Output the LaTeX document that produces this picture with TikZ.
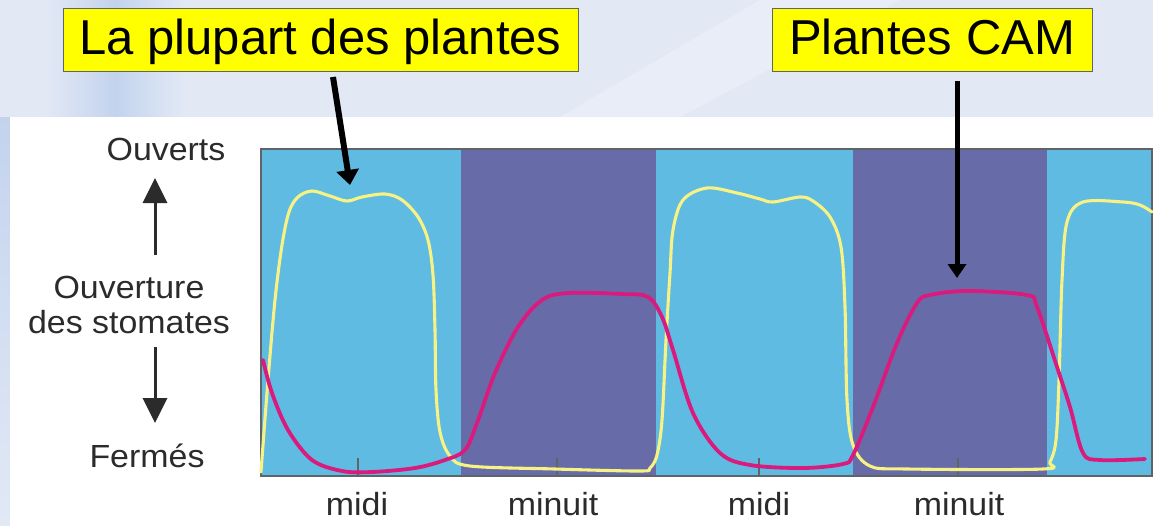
\documentclass[tikz,border=0pt]{standalone}
\usepackage{fontspec}
\setmainfont{Liberation Sans}
\usetikzlibrary{arrows.meta}
\definecolor{daybg}{HTML}{60BBE2}
\definecolor{nightbg}{HTML}{676CA9}
\definecolor{cyell}{HTML}{F7F283}
\definecolor{cmag}{HTML}{DA1A7C}
\definecolor{slide}{HTML}{E2E9F5}
\definecolor{slideblue}{HTML}{C3D3EE}
\definecolor{labtxt}{HTML}{2B2B2B}
\definecolor{boxyellow}{HTML}{FFFF00}
\definecolor{framegray}{HTML}{5E6468}
\begin{document}
\begin{tikzpicture}[x=1pt,y=-1pt,
  callout/.style={draw=framegray, line width=0.9pt, fill=boxyellow, text=black,
    font=\fontsize{49}{58}\selectfont, text height=36pt, text depth=7pt,
    minimum height=63pt, inner sep=0pt},
  axislabel/.style={anchor=base, text=labtxt, font=\fontsize{32}{38}\selectfont, inner sep=0pt, xscale=1.06},
  pointer/.style={line width=6pt, -{Triangle[length=15pt,width=22pt]}},
  sidearrow/.style={line width=3pt, draw=labtxt, -{Triangle[length=25pt,width=24pt]}},
  tick/.style={draw=framegray, line width=1.3pt},
  yellowcurve/.style={draw=cyell, line width=3.1pt, line join=round, line cap=round},
  magcurve/.style={draw=cmag, line width=3.8pt, line join=round, line cap=round}]
\useasboundingbox (0,0) rectangle (1153,525);
% slide background
\fill[slide] (0,0) rectangle (1153,525);
\shade[left color=slide, right color=slide, middle color=slideblue] (45,0) rectangle (185,117);
\fill[white, opacity=0.22] (560,117) -- (680,117) -- (900,0) -- (760,0) -- cycle;
\shade[top color=slideblue, bottom color=slide] (0,117) rectangle (10,525);
% white panel
\fill[white] (10,117) rectangle (1153,525);
% plot bands
\fill[daybg] (261,149) rectangle (1152,476);
\fill[nightbg] (461,149) rectangle (656,476);
\fill[nightbg] (853,149) rectangle (1047,476);
\draw[draw=framegray, line width=1.5pt] (261,149) rectangle (1152,476);
\foreach \x in {358,557,759,958} \draw[tick] (\x,476) -- (\x,458);
% curves
\draw[yellowcurve] plot[smooth, tension=0.55] coordinates {
 (261,472) (268,380) (275,300) (282,245) (289,212) (298,197) (312,191) (330,196)
 (347,201) (362,197) (385,194) (402,200) (418,217) (428,240) (433,275) (435,330)
 (436,390) (440,432) (450,456) (470,466) (555,469) (640,471) (650,468) (657,455)
 (662,420) (666,340) (670,273) (673,230) (683,200) (707,188) (737,193) (760,199)
 (773,202) (800,197) (813,201) (830,217) (841,247) (845,307) (847,400) (853,445)
 (870,466) (907,469) (1043,469) (1050,462) (1056,440) (1059,380) (1062,280)
 (1067,222) (1083,202) (1123,202) (1140,205) (1152,212)};
\draw[magcurve] plot[smooth, tension=0.55] coordinates {
 (263,360) (272,393) (288,430) (312,460) (342,471) (372,472) (415,468) (445,460)
 (465,450) (477,423) (495,373) (518,327) (542,300) (568,293) (622,294) (648,297)
 (662,317) (673,350) (693,413) (720,453) (750,465) (803,468) (843,464) (853,455)
 (873,407) (897,343) (917,303) (930,295) (967,291) (1027,295) (1037,307)
 (1057,367) (1070,407) (1083,453) (1100,460) (1145,459)};
% axis labels
\node[axislabel] (ouverts) at (166,160) {Ouverts};
\node[axislabel] (ouverture) at (129,298) {Ouverture};
\node[axislabel] (stomates) at (129,333) {des stomates};
\node[axislabel] (fermes) at (147,467) {Fermés};
\node[axislabel] (midi1) at (357,515) {midi};
\node[axislabel] (minuit1) at (553,515) {minuit};
\node[axislabel] (midi2) at (759,515) {midi};
\node[axislabel] (minuit2) at (959,515) {minuit};
\coordinate (upbase) at (155,255);
\coordinate (uptip) at (155,178);
\coordinate (downbase) at (155,347);
\coordinate (downtip) at (155,423);
\draw[sidearrow] (upbase) -- (uptip);
\draw[sidearrow] (downbase) -- (downtip);
% callouts
\node[callout, minimum width=515pt] (most) at (320.5,39.5) {La plupart des plantes};
\node[callout, minimum width=320pt] (cam) at (932,39.5) {Plantes CAM};
\coordinate (mostfoot) at (333,77);
\coordinate (mosttip) at (350,185);
\coordinate (camfoot) at (957,81);
\coordinate (camtip) at (957,278);
\draw[pointer] (mostfoot) -- (mosttip);
\draw[pointer, line width=5pt, -{Triangle[length=14pt,width=18pt]}] (camfoot) -- (camtip);
\end{tikzpicture}
\end{document}
